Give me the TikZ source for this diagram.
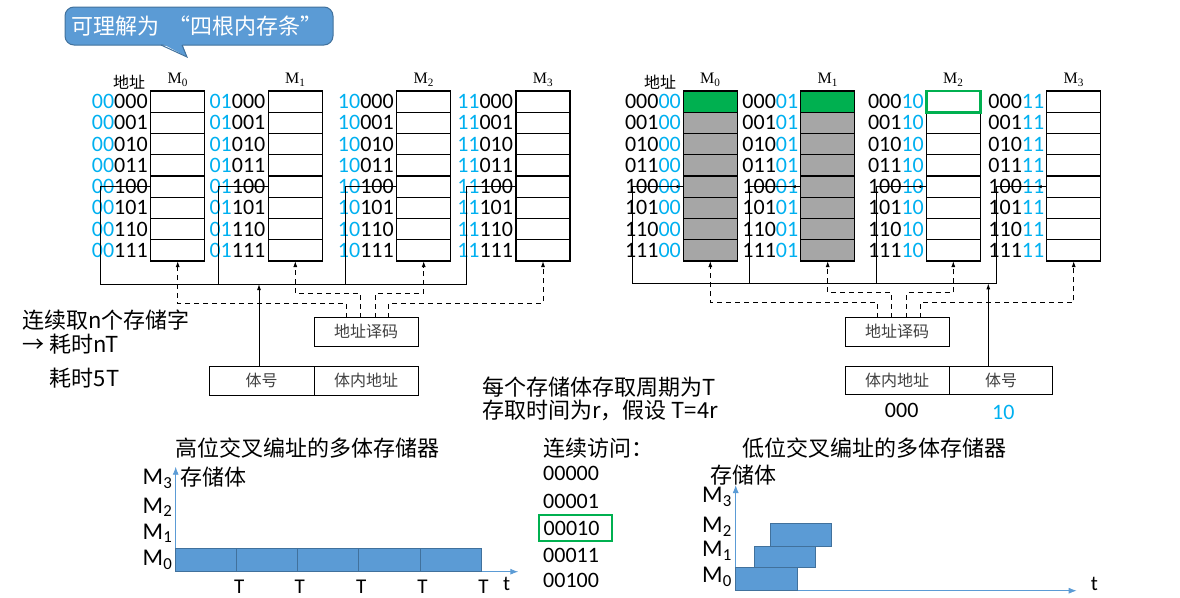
\documentclass[tikz,border=0pt]{standalone}
\usepackage{fontspec}
\setmainfont{Carlito}
\newfontfamily\cjk{Noto Sans CJK SC}
\newfontfamily\tms{Liberation Serif}
\usepackage{tikz}
\usetikzlibrary{calc, positioning, arrows.meta}

\definecolor{hiblue}{RGB}{0,176,240}
\definecolor{bubble}{RGB}{91,155,213}
\definecolor{bubbleline}{RGB}{65,113,156}
\definecolor{cellgreen}{RGB}{0,176,80}
\definecolor{cellgray}{RGB}{166,166,166}
\definecolor{labgray}{RGB}{64,64,64}

\tikzset{
	cell/.style={draw, line width=1.1pt, minimum width=54pt, minimum height=21.25pt, inner sep=0, outer sep=0, anchor=north west},
	addr/.style={font=\fontsize{22}{22}\selectfont, inner sep=0, anchor=east},
	mlab/.style={font=\tms\fontsize{16}{16}\selectfont, inner sep=0},
	boxlab/.style={draw, line width=1pt, minimum height=28.3pt, inner sep=0, outer sep=0, anchor=north west, text=labgray, font=\cjk\fontsize{16}{16}\selectfont},
	cn/.style={font=\cjk\fontsize{22}{26}\selectfont, inner sep=0, anchor=west},
	num/.style={font=\fontsize{22}{22}\selectfont, inner sep=0, anchor=west},
	chm/.style={font=\fontsize{24}{24}\selectfont, inner sep=0},
	tlab/.style={font=\fontsize{21}{21}\selectfont, inner sep=0},
	uparr/.style={-{Latex[length=6pt,width=4pt]}},
	ctrl/.style={dash pattern=on 5pt off 4pt, uparr},
	taxis/.style={bubble, line width=0.9pt, -{Latex[length=8pt,width=6pt]}},
	tbar/.style={fill=bubble, draw=bubbleline, line width=0.8pt}
}

\begin{document}
\begin{tikzpicture}[x=1pt, y=-1pt, line width=1pt]
	\useasboundingbox (0,0) rectangle (1180,597);

	%callout
	\draw[fill=bubble, draw=bubbleline, rounded corners=9pt] (65,7) rectangle (333,45);
	\fill[bubble] (161,43) -- (187,57) -- (182,43) -- cycle;
	\draw[bubbleline] (161,45) -- (187,57) -- (182,45);
	\node[cn, anchor=center, text=white] (note) at (197,26) {可理解为\hspace{0.45em}“四根内存条”\hspace{0.45em}};

	%high-order interleaved banks
	\node[mlab, font=\cjk\fontsize{16}{16}\selectfont] (haddr) at (129,82) {地址};
	\foreach \k/\bx/\vx/\hi in {0/150.7/100/00, 1/268.3/218/01, 2/396.7/345.5/10, 3/516/466.5/11}{
		\foreach \i/\lo in {0/000,1/001,2/010,3/011,4/100,5/101,6/110,7/111}{
			\node[cell] (h\k-\i) at (\bx,91+21.25*\i) {};
			\node[addr] (ha\k-\i) at ($(h\k-\i.west)+(-2.5,0)$) {\textcolor{hiblue}{\hi}\lo};
		}
		\node[mlab] (hm\k) at ($(h\k-0.north)+(0,-11)$) {M\textsubscript{\k}};
		\coordinate (hv\k) at (\vx,284);
		\draw (h\k-4.west) -| (hv\k);
	}
	\draw (hv0) -- (hv3);

	%decoder and address register (high-order)
	\node[boxlab, minimum width=104.3pt] (hdec) at (314,317.7) {地址译码};
	\node[boxlab, minimum width=104.7pt] (hnum) at (209.3,366.7) {体号};
	\node[boxlab, minimum width=104.3pt] (hoff) at (hnum.north east) {体内地址};
	\coordinate (hin) at (259,366.7);
	\draw[uparr] (hin) -- (hin |- hv0);
	\foreach \k/\dx/\dy in {0/32.7/14.4, 1/46.3/24.4, 2/61.3/24.4, 3/74.5/14.4}{
		\draw[ctrl] ($(hdec.north west)+(\dx,0)$) -- ++(0,-\dy) -| (h\k-7.south);
	}

	%low-order interleaved banks
	\node[mlab, font=\cjk\fontsize{16}{16}\selectfont] (laddr) at (660,82.7) {地址};
	\foreach \k/\bx/\vx/\hi/\tc/\rc in {0/683.3/632/00/cellgreen/cellgray, 1/800.7/749.3/01/cellgreen/cellgray, 2/926.3/876.7/10/white/white, 3/1046.7/996.7/11/white/white}{
		\foreach \i/\lo in {0/000,1/001,2/010,3/011,4/100,5/101,6/110,7/111}{
			\ifnum\i=0 \def\fc{\tc}\else\def\fc{\rc}\fi
			\node[cell, fill=\fc] (l\k-\i) at (\bx,91+21.25*\i) {};
			\node[addr] (la\k-\i) at ($(l\k-\i.west)+(-2,0)$) {\lo\textcolor{hiblue}{\hi}};
		}
		\node[mlab] (lm\k) at ($(l\k-0.north)+(0,-11)$) {M\textsubscript{\k}};
		\coordinate (lv\k) at (\vx,283.3);
		\draw (l\k-4.west) -| (lv\k);
		\draw[-{Latex[length=4pt,width=3.5pt]}] (l\k-4.west) -- ++(-9,0);
	}
	\draw[cellgreen, line width=2.5pt] (l2-0.north west) rectangle (l2-0.south east);
	\draw (lv0) -- (lv3);

	%decoder and address register (low-order)
	\node[boxlab, minimum width=104.3pt] (ldec) at (845,317.7) {地址译码};
	\node[boxlab, minimum width=104.3pt] (loff) at (845,366) {体内地址};
	\node[boxlab, minimum width=103.4pt] (lnum) at (loff.north east) {体号};
	\coordinate (lin) at (988.3,366);
	\draw[uparr] (lin) -- (lin |- lv0);
	\foreach \k/\dx/\dy in {0/32.7/15, 1/46.7/25, 2/61.7/25, 3/75/15}{
		\draw[ctrl] ($(ldec.north west)+(\dx,0)$) -- ++(0,-\dy) -| (l\k-7.south);
	}
	\node[num, anchor=center] (loffv) at (901.7,410) {000};
	\node[num, anchor=center, text=hiblue] (lnumv) at (1003.3,412) {10};

	%notes
	\node[cn] (seq) at (21.7,320) {连续取n个存储字};
	\node[cn] (cost) at (21.7,344.3) {→ 耗时nT};
	\node[cn] (five) at (49.3,377.7) {耗时5T};
	\node[cn] (cyc) at (481.7,386.7) {每个存储体存取周期为T};
	\node[cn] (acc) at (481.7,410) {存取时间为r，假设 T=4r};

	%high-order timing chart
	\node[cn] (htitle) at (175,448.3) {高位交叉编址的多体存储器};
	\node[cn] (hbank) at (180,476.7) {存储体};
	\draw[taxis] (175.7,571.7) -- (175.7,466.7);
	\draw[taxis] (175.7,571.7) -- (518.3,571.7);
	\foreach \x [count=\n, remember=\x as \lx (initially 175.7)] in {236.7,297.3,358.7,420,481}{
		\draw[tbar] (\lx,548.3) rectangle (\x,571.7);
		\node[tlab] (ht\n) at (\x+2.5,586.7) {T};
	}
	\node[tlab] (htt) at (506.7,584) {t};
	\foreach \k/\y in {0/560,1/533.3,2/507.3,3/479}{
		\node[chm] (hc\k) at (157.5,\y) {M\textsubscript{\k}};
	}

	%sequential accesses
	\node[cn] (seqacc) at (542.7,448.3) {连续访问：};
	\node[num] (a0) at (542.7,473.3) {00000};
	\node[num] (a1) at (542.7,501) {00001};
	\node[num, draw=cellgreen, line width=2pt, text width=64pt, align=left, inner xsep=4.4pt, minimum height=25.7pt] (a2) at (538.3,528) {00010};
	\node[num] (a3) at (542.7,555) {00011};
	\node[num] (a4) at (542.7,580) {00100};

	%low-order timing chart
	\node[cn] (ltitle) at (741.7,448.3) {低位交叉编址的多体存储器};
	\node[cn] (lbank) at (710,475) {存储体};
	\draw[taxis] (735.7,590.7) -- (735.7,485);
	\draw[taxis] (735.7,590.7) -- (1076.7,590.7);
	\draw[tbar] (735.7,567.7) rectangle (797.3,590.7);
	\draw[tbar] (754.3,546) rectangle (815.7,567.7);
	\draw[tbar] (770.7,523.3) rectangle (831.7,546);
	\node[tlab] (ltt) at (1094.3,584) {t};
	\foreach \k/\y in {0/576.7,1/550.7,2/526.7,3/496.7}{
		\node[chm] (lc\k) at (717,\y) {M\textsubscript{\k}};
	}

\end{tikzpicture}
\end{document}
